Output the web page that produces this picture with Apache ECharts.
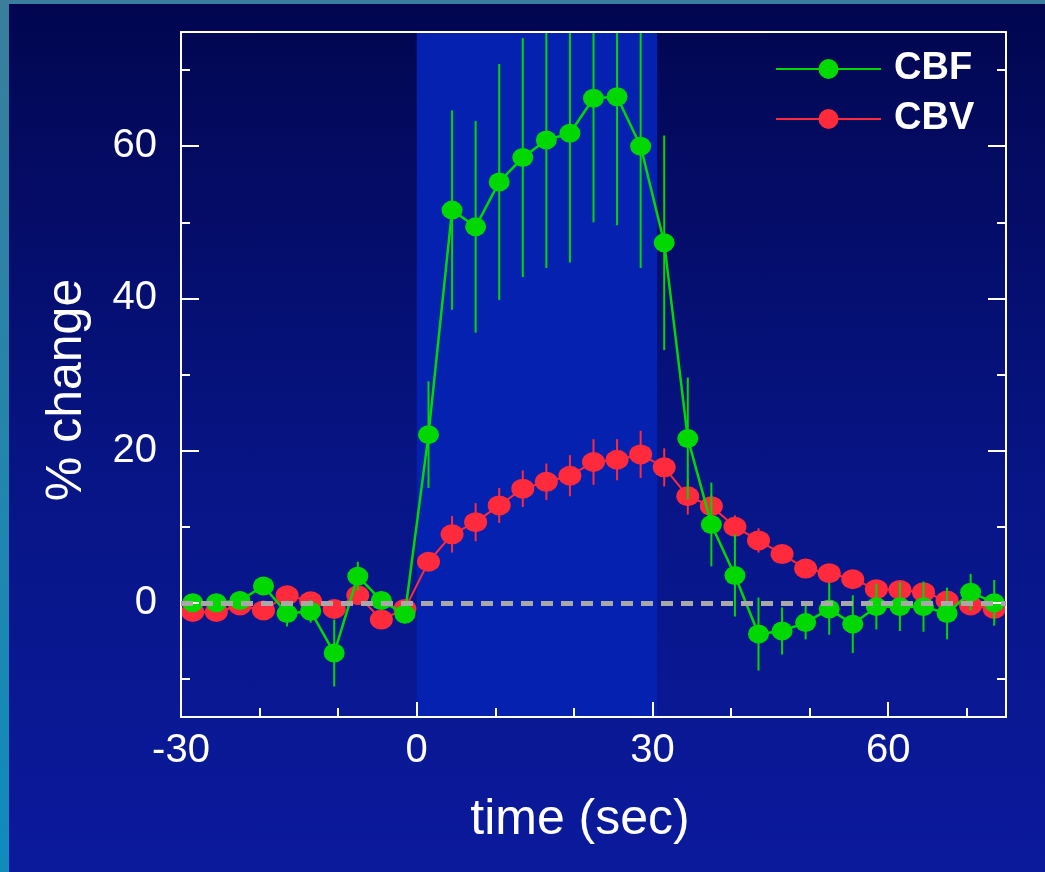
<!DOCTYPE html>
<html>
<head>
<meta charset="utf-8">
<title>CBF and CBV response</title>
<script src="https://cdn.jsdelivr.net/npm/echarts@6/dist/echarts.min.js"></script>
<style>
  html, body { margin: 0; padding: 0; width: 1045px; height: 872px; overflow: hidden; }
  body { background: linear-gradient(180deg, #3a7e9c 0%, #0f8bbd 100%); position: relative; }
  #panel { position: absolute; left: 9px; top: 4px; right: 0; bottom: 0;
           background: linear-gradient(180deg, #020650 0%, #071586 55%, #0b1a9c 100%); }
  #chart { position: absolute; left: 0; top: 0; width: 1045px; height: 872px; }
</style>
</head>
<body>
<div id="panel"></div>
<div id="chart"></div>
<script>
// Sample times (sec), stimulus onset at 0
const times = [-28.5, -25.5, -22.5, -19.5, -16.5, -13.5, -10.5, -7.5, -4.5, -1.5,
  1.5, 4.5, 7.5, 10.5, 13.5, 16.5, 19.5, 22.5, 25.5, 28.5,
  31.5, 34.5, 37.5, 40.5, 43.5, 46.5, 49.5, 52.5, 55.5, 58.5,
  61.5, 64.5, 67.5, 70.5, 73.5];

// Cerebral blood flow, % change and error
const cbf = [0, 0, 0.3, 2.2, -1.4, -1.1, -6.6, 3.5, 0.3, -1.5,
  22.1, 51.6, 49.4, 55.3, 58.5, 60.8, 61.7, 66.3, 66.5, 60.0,
  47.3, 21.6, 10.3, 3.6, -4.1, -3.7, -2.6, -0.8, -2.8, -0.5,
  -0.5, -0.5, -1.4, 1.4, 0];
const cbfErr = [1.0, 1.0, 1.0, 1.2, 1.7, 1.5, 4.4, 1.9, 1.2, 1.2,
  7.0, 13.1, 13.9, 15.5, 15.7, 16.8, 17.0, 16.3, 16.9, 16.0,
  14.1, 8.0, 5.5, 5.4, 4.8, 3.1, 2.2, 3.4, 3.8, 3.0,
  3.2, 3.3, 3.4, 2.4, 3.0];

// Cerebral blood volume, % change and error
const cbv = [-1.2, -1.2, -0.35, -1.0, 1.0, 0.2, -0.8, 1.0, -2.2, -0.8,
  5.4, 9.0, 10.6, 12.8, 15.0, 15.9, 16.7, 18.5, 18.8, 19.5,
  17.8, 14.0, 12.7, 10.0, 8.2, 6.4, 4.5, 3.9, 3.1, 1.8,
  1.7, 1.4, 0.3, -0.35, -0.8];
const cbvErr = [0.8, 0.8, 0.8, 0.8, 0.8, 0.8, 0.8, 0.8, 0.8, 0.8,
  1.0, 2.4, 2.5, 2.3, 2.4, 2.4, 2.7, 3.0, 2.7, 3.1,
  2.5, 2.4, 1.5, 1.5, 1.6, 1.0, 1.0, 1.0, 1.0, 1.0,
  1.0, 1.0, 1.0, 1.0, 1.0];

// Stimulus block (sec)
const stimulus = [0, 30.6];

// Axis ranges and ticks
const xRange = [-30, 75];
const yRange = [-15, 75];
const xMajor = [-30, 0, 30, 60];
const xMinor = [-20, -10, 10, 20, 40, 50, 70];
const yMajor = [0, 20, 40, 60];
const yMinor = [-10, 10, 30, 50, 70];

const GREEN = '#00d800';
const RED = '#ff2a3c';
const WHITE = '#ffffff';
const FONT = '"Liberation Sans", Arial, Helvetica, sans-serif';

const points = (vals) => times.map((t, i) => [t, vals[i]]);
const bars = (vals, errs) => times.map((t, i) => [
  t,
  Math.max(yRange[0], vals[i] - errs[i]),
  Math.min(yRange[1], vals[i] + errs[i])
]);

function errorBar(color) {
  return function (params, api) {
    const a = api.coord([api.value(0), api.value(1)]);
    const b = api.coord([api.value(0), api.value(2)]);
    return {
      type: 'line',
      shape: { x1: a[0], y1: a[1], x2: b[0], y2: b[1] },
      style: { stroke: color, lineWidth: 2 }
    };
  };
}

const frameLine = { show: true, onZero: false, lineStyle: { color: WHITE, width: 2 } };
const noLine = { show: false, onZero: false };
const tickStyle = { color: WHITE, width: 2 };
const baseX = { type: 'value', min: xRange[0], max: xRange[1], splitLine: { show: false }, z: 8 };
const baseY = { type: 'value', min: yRange[0], max: yRange[1], splitLine: { show: false }, z: 8 };

const chart = echarts.init(document.getElementById('chart'), null, { renderer: 'canvas' });
chart.setOption({
  backgroundColor: 'transparent',
  animation: false,
  textStyle: { fontFamily: FONT },
  grid: { left: 181, top: 32, right: 39, bottom: 155, containLabel: false },
  legend: {
    orient: 'vertical',
    left: 770,
    top: 45,
    itemWidth: 105,
    itemHeight: 25,
    itemGap: 12,
    data: ['CBF', 'CBV'],
    textStyle: { color: WHITE, fontSize: 38, fontWeight: 'bold', fontFamily: FONT, padding: [0, 0, 0, 8] }
  },
  xAxis: [
    Object.assign({}, baseX, {
      position: 'bottom',
      axisLine: frameLine,
      axisTick: { show: true, inside: true, length: 15, customValues: xMajor, lineStyle: tickStyle },
      axisLabel: { show: true, customValues: xMajor, margin: 14, color: WHITE, fontSize: 40, fontFamily: FONT }
    }),
    Object.assign({}, baseX, {
      position: 'bottom',
      axisLine: noLine,
      axisTick: { show: true, inside: true, length: 9, customValues: xMinor, lineStyle: tickStyle },
      axisLabel: { show: false }
    }),
    Object.assign({}, baseX, {
      position: 'top',
      axisLine: frameLine,
      axisTick: { show: false },
      axisLabel: { show: false }
    })
  ],
  yAxis: [
    Object.assign({}, baseY, {
      position: 'left',
      axisLine: frameLine,
      axisTick: { show: true, inside: true, length: 18, customValues: yMajor, lineStyle: tickStyle },
      axisLabel: { show: true, customValues: yMajor, margin: 24, color: WHITE, fontSize: 40, fontFamily: FONT }
    }),
    Object.assign({}, baseY, {
      position: 'left',
      axisLine: noLine,
      axisTick: { show: true, inside: true, length: 9, customValues: yMinor, lineStyle: tickStyle },
      axisLabel: { show: false }
    }),
    Object.assign({}, baseY, {
      position: 'right',
      axisLine: frameLine,
      axisTick: { show: true, inside: true, length: 18, customValues: yMajor, lineStyle: tickStyle },
      axisLabel: { show: false }
    }),
    Object.assign({}, baseY, {
      position: 'right',
      axisLine: noLine,
      axisTick: { show: true, inside: true, length: 9, customValues: yMinor, lineStyle: tickStyle },
      axisLabel: { show: false }
    })
  ],
  graphic: [
    {
      type: 'text', x: 67, y: 390, rotation: Math.PI / 2,
      style: { text: '% change', fill: WHITE, font: '50px ' + FONT, align: 'center', verticalAlign: 'middle' }
    },
    {
      type: 'text', x: 580, y: 820,
      style: { text: 'time (sec)', fill: WHITE, font: '50px ' + FONT, align: 'center', verticalAlign: 'middle' }
    }
  ],
  series: [
    {
      name: 'CBV-err', type: 'custom', z: 2,
      renderItem: errorBar(RED),
      data: bars(cbv, cbvErr),
      encode: { x: 0, y: [1, 2] }
    },
    {
      name: 'CBV', type: 'line', z: 3,
      data: points(cbv),
      symbol: 'circle', symbolSize: [23, 20],
      itemStyle: { color: RED },
      lineStyle: { color: RED, width: 2 },
      markArea: {
        silent: true,
        itemStyle: { color: '#0521b0' },
        data: [[{ xAxis: stimulus[0] }, { xAxis: stimulus[1] }]]
      }
    },
    {
      name: 'CBF-err', type: 'custom', z: 4,
      renderItem: errorBar(GREEN),
      data: bars(cbf, cbfErr),
      encode: { x: 0, y: [1, 2] }
    },
    {
      name: 'CBF', type: 'line', z: 5,
      data: points(cbf),
      symbol: 'circle', symbolSize: [21, 19],
      itemStyle: { color: GREEN },
      lineStyle: { color: GREEN, width: 2.5 },
      markLine: {
        silent: true, z: 10, symbol: 'none',
        label: { show: false },
        lineStyle: { color: '#a8a8a8', width: 5, type: [12, 8] },
        data: [{ yAxis: 0 }]
      }
    }
  ]
});
</script>
</body>
</html>
